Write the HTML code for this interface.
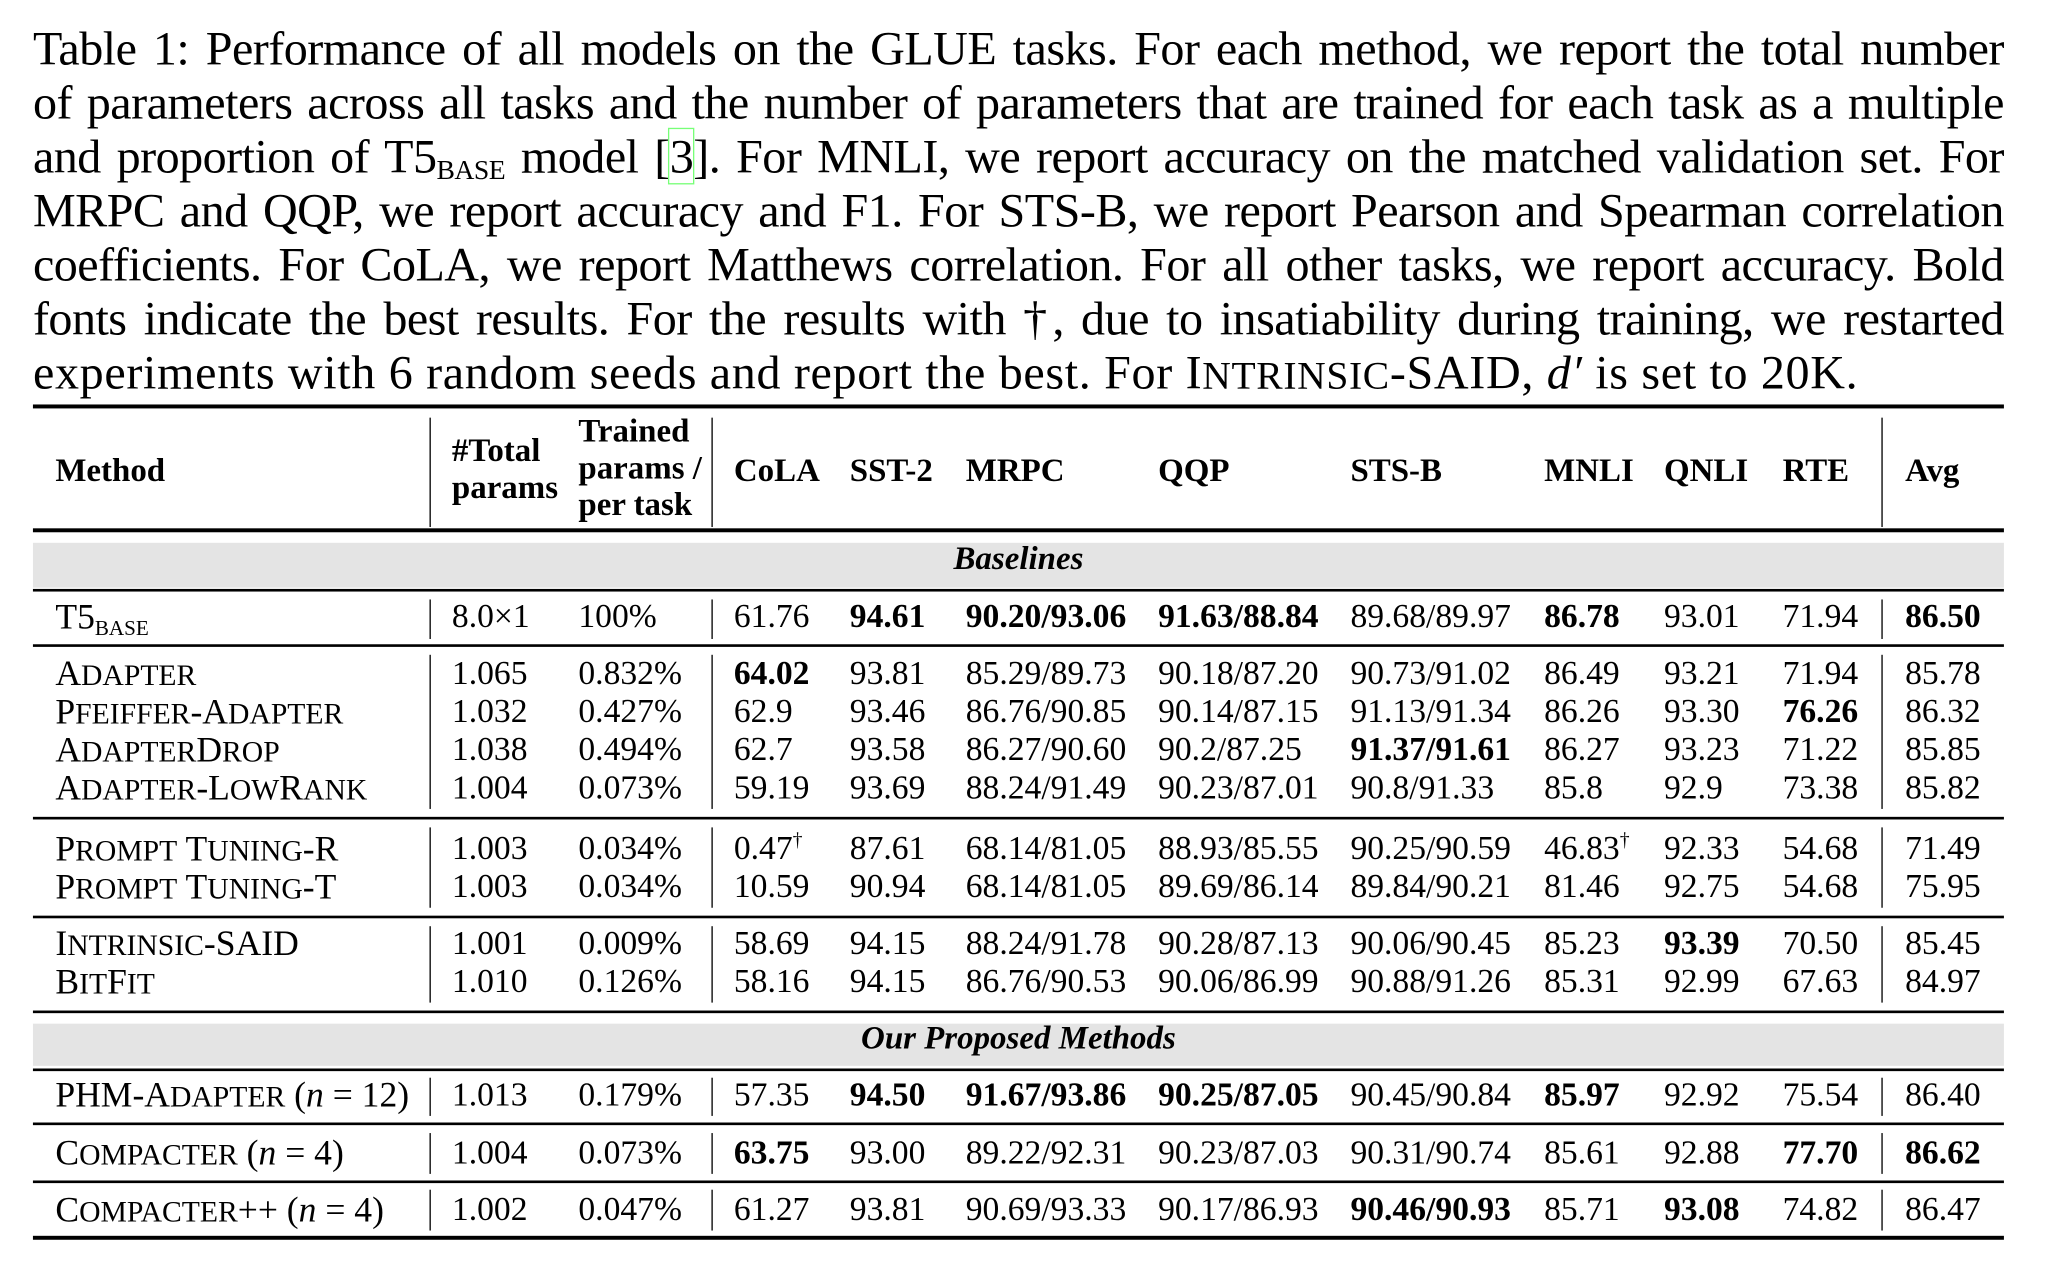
<!DOCTYPE html>
<html><head><meta charset="utf-8">
<style>
html,body{margin:0;padding:0;background:#fff;}
body{width:2064px;height:1264px;overflow:hidden;position:relative;}
#w{position:absolute;left:0;top:0;width:1550px;height:960px;transform:scale(1.3175);transform-origin:0 0;font-family:"Liberation Serif",serif;color:#000;}
.cl{position:absolute;left:25px;width:1496px;font-size:36.5px;line-height:41px;white-space:nowrap;text-align:justify;text-align-last:justify;letter-spacing:-0.4px;}
.cl.last{text-align-last:left;letter-spacing:0.5px;}
.hr{position:absolute;left:25px;width:1496px;background:#000;}
.band{position:absolute;left:25px;width:1496px;background:#e4e4e4;}
.vl{position:absolute;width:1px;background:#000;}
.r{position:absolute;left:0;width:1550px;height:30px;line-height:30px;font-size:25.5px;white-space:nowrap;}
.r>span{position:absolute;top:0;}
.b{font-weight:bold;}
.r>span:first-child{font-size:27px;}
.s{font-size:22.5px;}
.cs{font-size:30px;}
sub{font-size:16px;vertical-align:-5px;line-height:0;}
.cl sub{font-size:21px;}
sup{font-size:15px;vertical-align:10px;line-height:0;}
.h{position:absolute;font-weight:bold;font-size:25px;line-height:28px;white-space:nowrap;}
.bt{position:absolute;left:25px;width:1496px;text-align:center;font-style:italic;font-weight:bold;font-size:25px;line-height:30px;}
</style></head><body><div id="w">
<div class="cl" style="top:16px">Table 1: Performance of all models on the GLUE tasks. For each method, we report the total number</div>
<div class="cl" style="top:57px">of parameters across all tasks and the number of parameters that are trained for each task as a multiple</div>
<div class="cl" style="top:98px">and proportion of T5<sub>BASE</sub> model [<span style="outline:1.5px solid #7f7;">3</span>]. For MNLI, we report accuracy on the matched validation set. For</div>
<div class="cl" style="top:139px">MRPC and QQP, we report accuracy and F1. For STS-B, we report Pearson and Spearman correlation</div>
<div class="cl" style="top:180px">coefficients. For CoLA, we report Matthews correlation. For all other tasks, we report accuracy. Bold</div>
<div class="cl" style="top:221px">fonts indicate the best results. For the results with †, due to insatiability during training, we restarted</div>
<div class="cl last" style="top:262px">experiments with 6 random seeds and report the best. For I<span class="cs">NTRINSIC</span>-SAID, <i>d′</i> is set to 20K.</div>

<div class="hr" style="top:307px;height:3px"></div>
<div class="hr" style="top:401px;height:3px"></div>
<div class="band" style="top:412px;height:34px"></div>
<div class="hr" style="top:447px;height:2px"></div>
<div class="hr" style="top:489px;height:2px"></div>
<div class="hr" style="top:620px;height:2px"></div>
<div class="hr" style="top:695px;height:2px"></div>
<div class="hr" style="top:767px;height:2px"></div>
<div class="band" style="top:777px;height:32px"></div>
<div class="hr" style="top:811px;height:2px"></div>
<div class="hr" style="top:852px;height:2px"></div>
<div class="hr" style="top:896px;height:2px"></div>
<div class="hr" style="top:938px;height:3px"></div>

<div class="vl" style="left:326px;top:317px;height:83px"></div>
<div class="vl" style="left:540px;top:317px;height:83px"></div>
<div class="vl" style="left:1428px;top:317px;height:83px"></div>
<div class="vl" style="left:326px;top:455px;height:30px"></div><div class="vl" style="left:540px;top:455px;height:30px"></div><div class="vl" style="left:1428px;top:455px;height:30px"></div>
<div class="vl" style="left:326px;top:497px;height:117px"></div><div class="vl" style="left:540px;top:497px;height:117px"></div><div class="vl" style="left:1428px;top:497px;height:117px"></div>
<div class="vl" style="left:326px;top:628px;height:61px"></div><div class="vl" style="left:540px;top:628px;height:61px"></div><div class="vl" style="left:1428px;top:628px;height:61px"></div>
<div class="vl" style="left:326px;top:703px;height:58px"></div><div class="vl" style="left:540px;top:703px;height:58px"></div><div class="vl" style="left:1428px;top:703px;height:58px"></div>
<div class="vl" style="left:326px;top:818px;height:29px"></div><div class="vl" style="left:540px;top:818px;height:29px"></div><div class="vl" style="left:1428px;top:818px;height:29px"></div>
<div class="vl" style="left:326px;top:860px;height:31px"></div><div class="vl" style="left:540px;top:860px;height:31px"></div><div class="vl" style="left:1428px;top:860px;height:31px"></div>
<div class="vl" style="left:326px;top:903px;height:31px"></div><div class="vl" style="left:540px;top:903px;height:31px"></div><div class="vl" style="left:1428px;top:903px;height:31px"></div>

<div class="h" style="left:42px;top:344px">Method</div>
<div class="h" style="left:343px;top:329px">#Total<br>params</div>
<div class="h" style="left:439px;top:314px;line-height:28px">Trained<br>params /<br>per task</div>
<div class="h" style="left:557px;top:344px">CoLA</div>
<div class="h" style="left:645px;top:344px">SST-2</div>
<div class="h" style="left:733px;top:344px">MRPC</div>
<div class="h" style="left:879px;top:344px">QQP</div>
<div class="h" style="left:1025px;top:344px">STS-B</div>
<div class="h" style="left:1172px;top:344px">MNLI</div>
<div class="h" style="left:1263px;top:344px">QNLI</div>
<div class="h" style="left:1353px;top:344px">RTE</div>
<div class="h" style="left:1446px;top:344px">Avg</div>

<div class="bt" style="top:410px">Baselines</div>
<div class="bt" style="top:774px">Our Proposed Methods</div>

<div class="r" style="top:453px"><span style="left:42px">T5<sub>BASE</sub></span><span style="left:343px">8.0×1</span><span style="left:439px">100%</span><span style="left:557px">61.76</span><span class="b" style="left:645px">94.61</span><span class="b" style="left:733px">90.20/93.06</span><span class="b" style="left:879px">91.63/88.84</span><span style="left:1025px">89.68/89.97</span><span class="b" style="left:1172px">86.78</span><span style="left:1263px">93.01</span><span style="left:1353px">71.94</span><span class="b" style="left:1446px">86.50</span></div>

<div class="r" style="top:496px"><span style="left:42px">A<span class="s">DAPTER</span></span><span style="left:343px">1.065</span><span style="left:439px">0.832%</span><span class="b" style="left:557px">64.02</span><span style="left:645px">93.81</span><span style="left:733px">85.29/89.73</span><span style="left:879px">90.18/87.20</span><span style="left:1025px">90.73/91.02</span><span style="left:1172px">86.49</span><span style="left:1263px">93.21</span><span style="left:1353px">71.94</span><span style="left:1446px">85.78</span></div>
<div class="r" style="top:525px"><span style="left:42px">P<span class="s">FEIFFER</span>-A<span class="s">DAPTER</span></span><span style="left:343px">1.032</span><span style="left:439px">0.427%</span><span style="left:557px">62.9</span><span style="left:645px">93.46</span><span style="left:733px">86.76/90.85</span><span style="left:879px">90.14/87.15</span><span style="left:1025px">91.13/91.34</span><span style="left:1172px">86.26</span><span style="left:1263px">93.30</span><span class="b" style="left:1353px">76.26</span><span style="left:1446px">86.32</span></div>
<div class="r" style="top:554px"><span style="left:42px">A<span class="s">DAPTER</span>D<span class="s">ROP</span></span><span style="left:343px">1.038</span><span style="left:439px">0.494%</span><span style="left:557px">62.7</span><span style="left:645px">93.58</span><span style="left:733px">86.27/90.60</span><span style="left:879px">90.2/87.25</span><span class="b" style="left:1025px">91.37/91.61</span><span style="left:1172px">86.27</span><span style="left:1263px">93.23</span><span style="left:1353px">71.22</span><span style="left:1446px">85.85</span></div>
<div class="r" style="top:583px"><span style="left:42px">A<span class="s">DAPTER</span>-L<span class="s">OW</span>R<span class="s">ANK</span></span><span style="left:343px">1.004</span><span style="left:439px">0.073%</span><span style="left:557px">59.19</span><span style="left:645px">93.69</span><span style="left:733px">88.24/91.49</span><span style="left:879px">90.23/87.01</span><span style="left:1025px">90.8/91.33</span><span style="left:1172px">85.8</span><span style="left:1263px">92.9</span><span style="left:1353px">73.38</span><span style="left:1446px">85.82</span></div>

<div class="r" style="top:629px"><span style="left:42px">P<span class="s">ROMPT</span> T<span class="s">UNING</span>-R</span><span style="left:343px">1.003</span><span style="left:439px">0.034%</span><span style="left:557px">0.47<sup>†</sup></span><span style="left:645px">87.61</span><span style="left:733px">68.14/81.05</span><span style="left:879px">88.93/85.55</span><span style="left:1025px">90.25/90.59</span><span style="left:1172px">46.83<sup>†</sup></span><span style="left:1263px">92.33</span><span style="left:1353px">54.68</span><span style="left:1446px">71.49</span></div>
<div class="r" style="top:658px"><span style="left:42px">P<span class="s">ROMPT</span> T<span class="s">UNING</span>-T</span><span style="left:343px">1.003</span><span style="left:439px">0.034%</span><span style="left:557px">10.59</span><span style="left:645px">90.94</span><span style="left:733px">68.14/81.05</span><span style="left:879px">89.69/86.14</span><span style="left:1025px">89.84/90.21</span><span style="left:1172px">81.46</span><span style="left:1263px">92.75</span><span style="left:1353px">54.68</span><span style="left:1446px">75.95</span></div>

<div class="r" style="top:701px"><span style="left:42px">I<span class="s">NTRINSIC</span>-SAID</span><span style="left:343px">1.001</span><span style="left:439px">0.009%</span><span style="left:557px">58.69</span><span style="left:645px">94.15</span><span style="left:733px">88.24/91.78</span><span style="left:879px">90.28/87.13</span><span style="left:1025px">90.06/90.45</span><span style="left:1172px">85.23</span><span class="b" style="left:1263px">93.39</span><span style="left:1353px">70.50</span><span style="left:1446px">85.45</span></div>
<div class="r" style="top:730px"><span style="left:42px">B<span class="s">IT</span>F<span class="s">IT</span></span><span style="left:343px">1.010</span><span style="left:439px">0.126%</span><span style="left:557px">58.16</span><span style="left:645px">94.15</span><span style="left:733px">86.76/90.53</span><span style="left:879px">90.06/86.99</span><span style="left:1025px">90.88/91.26</span><span style="left:1172px">85.31</span><span style="left:1263px">92.99</span><span style="left:1353px">67.63</span><span style="left:1446px">84.97</span></div>

<div class="r" style="top:816px"><span style="left:42px">PHM-A<span class="s">DAPTER</span> (<i>n</i> = 12)</span><span style="left:343px">1.013</span><span style="left:439px">0.179%</span><span style="left:557px">57.35</span><span class="b" style="left:645px">94.50</span><span class="b" style="left:733px">91.67/93.86</span><span class="b" style="left:879px">90.25/87.05</span><span style="left:1025px">90.45/90.84</span><span class="b" style="left:1172px">85.97</span><span style="left:1263px">92.92</span><span style="left:1353px">75.54</span><span style="left:1446px">86.40</span></div>
<div class="r" style="top:860px"><span style="left:42px">C<span class="s">OMPACTER</span> (<i>n</i> = 4)</span><span style="left:343px">1.004</span><span style="left:439px">0.073%</span><span class="b" style="left:557px">63.75</span><span style="left:645px">93.00</span><span style="left:733px">89.22/92.31</span><span style="left:879px">90.23/87.03</span><span style="left:1025px">90.31/90.74</span><span style="left:1172px">85.61</span><span style="left:1263px">92.88</span><span class="b" style="left:1353px">77.70</span><span class="b" style="left:1446px">86.62</span></div>
<div class="r" style="top:903px"><span style="left:42px">C<span class="s">OMPACTER</span>++ (<i>n</i> = 4)</span><span style="left:343px">1.002</span><span style="left:439px">0.047%</span><span style="left:557px">61.27</span><span style="left:645px">93.81</span><span style="left:733px">90.69/93.33</span><span style="left:879px">90.17/86.93</span><span class="b" style="left:1025px">90.46/90.93</span><span style="left:1172px">85.71</span><span class="b" style="left:1263px">93.08</span><span style="left:1353px">74.82</span><span style="left:1446px">86.47</span></div>
</div></body></html>
